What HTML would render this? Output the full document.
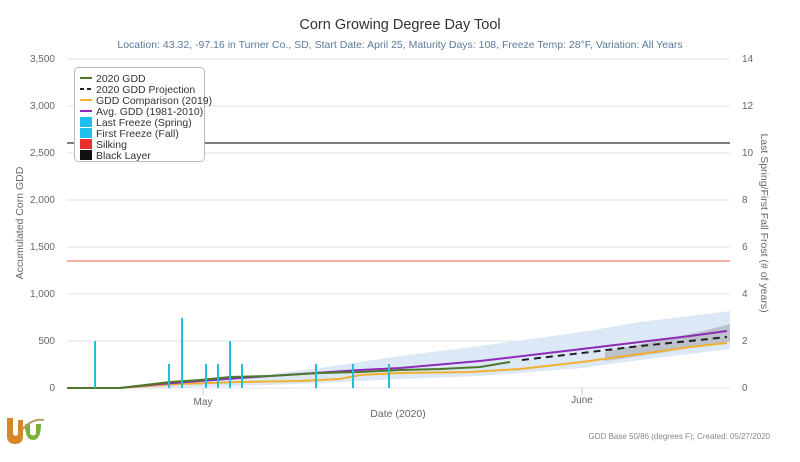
<!DOCTYPE html>
<html><head><meta charset="utf-8"><style>
body{margin:0;background:#fff;font-family:"Liberation Sans",sans-serif;}
</style></head><body>
<svg width="800" height="457" viewBox="0 0 800 457" xmlns="http://www.w3.org/2000/svg" font-family="Liberation Sans, sans-serif">
<rect width="800" height="457" fill="#fff"/>
<text x="400" y="29" text-anchor="middle" font-size="14.5" fill="#333">Corn Growing Degree Day Tool</text>
<text x="400" y="48" text-anchor="middle" font-size="10.5" fill="#5a7a9a">Location: 43.32, -97.16 in Turner Co., SD, Start Date: April 25, Maturity Days: 108, Freeze Temp: 28°F, Variation: All Years</text>
<g stroke="#e0e0e0" stroke-width="1">
<line x1="67" x2="730" y1="59" y2="59"/><line x1="67" x2="730" y1="106" y2="106"/><line x1="67" x2="730" y1="153" y2="153"/><line x1="67" x2="730" y1="200" y2="200"/><line x1="67" x2="730" y1="247" y2="247"/><line x1="67" x2="730" y1="294" y2="294"/><line x1="67" x2="730" y1="341" y2="341"/><line x1="67" x2="730" y1="388" y2="388"/>
</g>
<g font-size="10" fill="#666" text-anchor="end">
<text x="55" y="62">3,500</text><text x="55" y="109">3,000</text><text x="55" y="156">2,500</text><text x="55" y="203">2,000</text><text x="55" y="250">1,500</text><text x="55" y="297">1,000</text><text x="55" y="344">500</text><text x="55" y="391">0</text>
</g>
<g font-size="10" fill="#666">
<text x="742" y="62">14</text><text x="742" y="109">12</text><text x="742" y="156">10</text><text x="742" y="203">8</text><text x="742" y="250">6</text><text x="742" y="297">4</text><text x="742" y="344">2</text><text x="742" y="391">0</text>
</g>
<text transform="translate(23,223) rotate(-90)" text-anchor="middle" font-size="10.5" fill="#666">Accumulated Corn GDD</text>
<text transform="translate(761,223) rotate(90)" text-anchor="middle" font-size="10.5" fill="#666">Last Spring/First Fall Frost (# of years)</text>
<!-- bands -->
<path d="M67,388 L160,386 L240,378 L320,368 L400,356 L480,346 L582,332 L640,322 L730,311 L730,349 L640,360 L582,368 L480,376 L400,379 L320,383 L240,386 L160,388 Z" fill="#dce8f5"/>
<path d="M605,352 L660,340 L700,332 L730,324 L730,342 L700,346 L660,353 L605,361 Z" fill="#bcc2cc"/>
<line x1="67" x2="730" y1="143" y2="143" stroke="#333" stroke-width="1.3"/>
<line x1="67" x2="730" y1="261" y2="261" stroke="#f08070" stroke-width="1.3"/>
<!-- lines -->
<path d="M67,388 L120,388 L180,384 L240,382 L300,381 L340,379 L360,375 L400,373 L470,372 L520,369 L582,362 L640,354 L690,347 L727,343" fill="none" stroke="#f0b030" stroke-width="2"/>
<path d="M67,388 L120,388 L160,384 L200,381 L240,378 L300,374 L360,370 L400,368 L480,361 L582,349 L640,342 L690,336 L727,331" fill="none" stroke="#8e2bb8" stroke-width="2"/>
<path d="M67,388 L120,388 L170,382 L200,380 L230,377 L270,376 L320,373 L360,372 L400,370 L440,369 L480,367 L510,362" fill="none" stroke="#4d7a2a" stroke-width="2"/>
<path d="M522,360 L582,353 L640,346 L690,341 L727,337" fill="none" stroke="#222" stroke-width="2" stroke-dasharray="7,5"/>
<!-- freeze bars -->
<g stroke="#22c0d8" stroke-width="2">
<line x1="95" x2="95" y1="388" y2="341"/><line x1="169" x2="169" y1="388" y2="364"/><line x1="182" x2="182" y1="388" y2="318"/><line x1="206" x2="206" y1="388" y2="364"/><line x1="218" x2="218" y1="388" y2="364"/><line x1="230" x2="230" y1="388" y2="341"/><line x1="242" x2="242" y1="388" y2="364"/><line x1="316" x2="316" y1="388" y2="364"/><line x1="353" x2="353" y1="388" y2="364"/><line x1="389" x2="389" y1="388" y2="364"/>
</g>
<line x1="203" x2="203" y1="388" y2="395" stroke="#ccc"/>
<line x1="582" x2="582" y1="388" y2="395" stroke="#ccc"/>
<text x="203" y="405" text-anchor="middle" font-size="10" fill="#666">May</text>
<text x="582" y="403" text-anchor="middle" font-size="10" fill="#666">June</text>
<text x="398" y="417" text-anchor="middle" font-size="10.5" fill="#666">Date (2020)</text>
<text x="770" y="439" text-anchor="end" font-size="8" fill="#888">GDD Base 50/86 (degrees F); Created: 05/27/2020</text>
<!-- legend -->
<rect x="74.5" y="67.5" width="130" height="94" rx="4" fill="#fff" stroke="#bbb"/>
<g font-size="10.5" fill="#333">
<line x1="80" x2="92" y1="78" y2="78" stroke="#4d7a2a" stroke-width="2"/><text x="96" y="82">2020 GDD</text>
<line x1="80" x2="92" y1="89" y2="89" stroke="#222" stroke-width="2" stroke-dasharray="4,3"/><text x="96" y="93">2020 GDD Projection</text>
<line x1="80" x2="92" y1="100" y2="100" stroke="#f0b030" stroke-width="2"/><text x="96" y="104">GDD Comparison (2019)</text>
<line x1="80" x2="92" y1="111" y2="111" stroke="#8e2bb8" stroke-width="2"/><text x="96" y="115">Avg. GDD (1981-2010)</text>
<rect x="80" y="117" width="12" height="10" fill="#1ec0ee"/><text x="96" y="126">Last Freeze (Spring)</text>
<rect x="80" y="128" width="12" height="10" fill="#1ec0ee"/><text x="96" y="137">First Freeze (Fall)</text>
<rect x="80" y="139" width="12" height="10" fill="#e83030"/><text x="96" y="148">Silking</text>
<rect x="80" y="150" width="12" height="10" fill="#111"/><text x="96" y="159">Black Layer</text>
</g>
<!-- logo -->
<path d="M7,418 L7,436 Q7,444 15,444 Q23,444 23,436 L23,420 L18,420 L18,434 Q16,438 13,434 L13,418 Z" fill="#d8862a"/>
<path d="M25,424 Q25,440 33,440 Q41,440 41,424 L36,424 L36,434 Q33,437 30,434 L30,424 Z" fill="#7ab03a"/>
<path d="M22,430 Q32,418 44,420" stroke="#b8a060" stroke-width="2" fill="none"/>
</svg>
</body></html>
